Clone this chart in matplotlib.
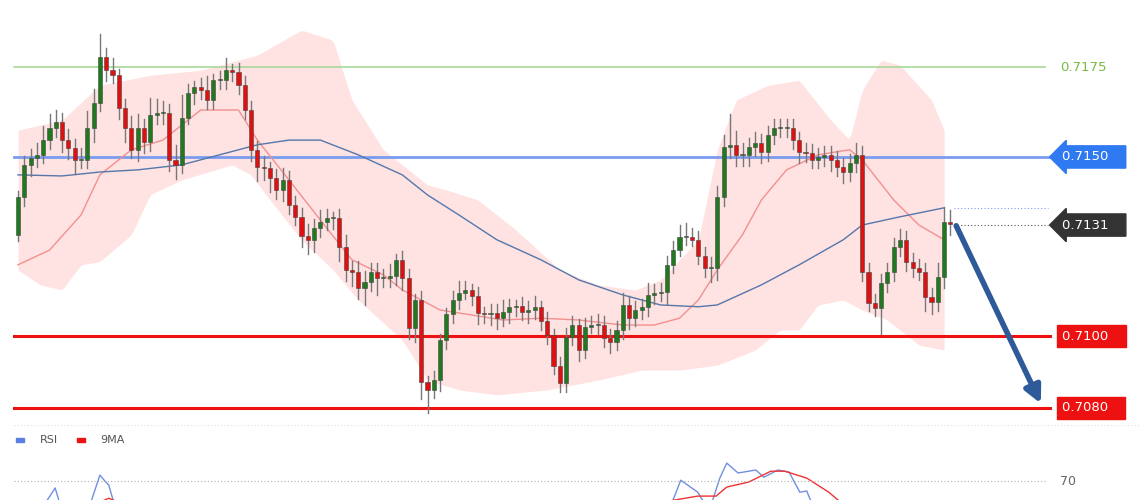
import matplotlib
matplotlib.use("Agg")
import matplotlib.pyplot as plt
from matplotlib.patches import Rectangle
import numpy as np

first_open = 0.71282
closes = [0.71388,0.71478,0.71497,0.71506,0.71547,0.71581,0.71598,0.71547,0.71525,0.71492,
          0.71492,0.71581,0.71651,0.71779,0.71743,0.71729,0.71637,0.71581,0.71520,0.71581,
          0.71542,0.71617,0.71623,0.71623,0.71492,0.71478,0.71609,0.71679,0.71695,0.71687,
          0.71659,0.71715,0.71715,0.71743,0.71737,0.71701,0.71631,0.71520,0.71472,0.71469,
          0.71441,0.71408,0.71436,0.71366,0.71333,0.71280,0.71268,0.71302,0.71319,0.71330,
          0.71330,0.71249,0.71185,0.71179,0.71135,0.71151,0.71179,0.71162,0.71162,0.71168,
          0.71213,0.71162,0.71023,0.71101,0.70872,0.70850,0.70878,0.70989,0.71062,0.71101,
          0.71121,0.71129,0.71112,0.71065,0.71062,0.71065,0.71051,0.71068,0.71081,0.71084,
          0.71068,0.71073,0.71081,0.71042,0.71003,0.70917,0.70869,0.70998,0.71031,0.70962,
          0.71026,0.71031,0.71031,0.70995,0.70984,0.71017,0.71087,0.71051,0.71073,0.71081,
          0.71115,0.71121,0.71123,0.71199,0.71241,0.71277,0.71277,0.71268,0.71224,0.71190,
          0.71190,0.71388,0.71528,0.71533,0.71506,0.71506,0.71528,0.71539,0.71514,0.71561,
          0.71581,0.71581,0.71581,0.71547,0.71514,0.71511,0.71492,0.71500,0.71506,0.71492,
          0.71472,0.71458,0.71483,0.71506,0.71179,0.71093,0.71079,0.71148,0.71179,0.71249,
          0.71268,0.71207,0.71190,0.71180,0.71109,0.71095,0.71165,0.71319,0.71313]
# wick lengths in pips (0.0001)
upper_wick = [2,3,3,4,5,5,4,3,4,3, 4,6,5,8,3,4,2,3,4,5, 3,6,5,4,3,5,8,3,2,3,
              5,2,3,4,2,3,3,3,3,4, 2,3,4,3,3,3,4,3,4,3, 2,3,4,3,4,4,3,3,3,4,
              2,3,3,2,3,2,3,2,2,3, 4,3,2,3,2,3,3,4,3,2, 3,3,4,2,3,2,3,3,3,2,
              3,3,4,3,3,3,4,3,3,3, 4,3,3,3,3,4,5,3,3,3, 4,4,4,11,5,4,3,4,3,3,
              3,3,3,3,3,3,3,3,3,3, 3,3,3,4,3,3,3,3,3,3, 4,3,3,3,3,3,5,5,4]
lower_wick = [2,3,4,3,3,3,3,4,4,5, 3,3,5,3,4,3,4,5,3,4, 4,3,3,4,4,5,3,2,4,3,
              3,3,3,3,3,3,3,4,5,4, 5,3,4,3,3,4,5,4,3,3, 4,5,4,5,4,6,3,6,3,3,
              3,4,4,5,6,8,3,4,3,3, 3,2,3,4,3,4,4,3,4,3, 3,4,3,3,3,3,3,3,3,4,
              3,2,3,3,4,3,3,4,3,3, 3,3,3,4,3,2,3,2,3,3, 5,4,3,4,4,4,4,3,4,3,
              3,3,3,3,4,3,3,3,3,4, 3,4,3,3,3,3,3,9,3,3, 3,3,3,3,5,4,3,4,4]

upper_band_x = [0,7,13,21,29,38,45,50,53,58,65,68,73,79,86,92,98,102,108,111,114,119,124,129,132,134,137,140,145,147]
upper_band_y = [0.71575,0.71603,0.71700,0.71728,0.71742,0.71784,0.71854,0.71826,0.71659,0.71520,0.71422,0.71408,0.71380,0.71297,0.71185,0.71143,0.71129,0.71157,0.71269,0.71520,0.71659,0.71700,0.71714,0.71603,0.71547,0.71687,0.71770,0.71756,0.71659,0.71575]
lower_band_x = [0,3.5,7,10,13,18,21,26,34,37,40,45,50,54,61,65,70,76,84,92,99,105,111,117,121,124,127,131,134,138,143,147]
lower_band_y = [0.71185,0.71143,0.71129,0.71199,0.71208,0.71283,0.71395,0.71436,0.71478,0.71450,0.71380,0.71269,0.71185,0.71101,0.70989,0.70877,0.70850,0.70836,0.70850,0.70877,0.70905,0.70905,0.70919,0.70961,0.71017,0.71017,0.71087,0.71101,0.71073,0.71045,0.70975,0.70961]
mid_x = [0,5,10,13,18,23,29,35,38,43,48,53,58,61,64,67,72,77,83,89,96,101,105,108,111,115,118,122,127,132,134,139,143,147]
mid_y = [0.71199,0.71240,0.71338,0.71450,0.71520,0.71547,0.71631,0.71631,0.71547,0.71436,0.71324,0.71213,0.71171,0.71129,0.71101,0.71073,0.71059,0.71045,0.71050,0.71045,0.71031,0.71031,0.71050,0.71101,0.71185,0.71283,0.71380,0.71464,0.71506,0.71520,0.71492,0.71380,0.71310,0.71269]
ma_x = [0,7,13,19,26,32,38,43,48,54,61,65,70,76,83,89,96,102,108,111,118,124,131,134,140,147]
ma_y = [0.71450,0.71447,0.71458,0.71464,0.71478,0.71506,0.71534,0.71547,0.71547,0.71506,0.71450,0.71394,0.71338,0.71269,0.71213,0.71157,0.71115,0.71087,0.71082,0.71087,0.71143,0.71199,0.71269,0.71310,0.71333,0.71358]

rsi_x = [0,2,3.5,5.9,7,9,11.1,13,13.8,14.4,15.6,18,60,100,103.3,105.2,107.9,109.7,111.4,112.5,114.3,117.1,118.4,120.6,122.4,124.1,125.2,126.5,129,147]
rsi_y = [50,55,60,67.7,60,55,60,72,70,68.7,60,52,40,55,60,70.3,66.3,60,71,76,72.7,73.7,71.3,73.7,73,66.3,66.7,60,50,50]
rsi_ma_x = [10,12,14.4,17,20,60,97,99.5,107.9,110.8,112.5,116,119.5,121.7,125.2,128.7,131.1,133,147]
rsi_ma_y = [58,62,64.3,62,57,45,55,62,65,65,68,69.7,73.3,73.3,71,66.3,62,58,50]

levels = [0.7175, 0.7150, 0.7100, 0.7080]
last_price = 0.7131

def px_x(p):
    return (p - 18) / 6.3

fig = plt.figure(figsize=(11.4, 5.0), dpi=100)
ax = fig.add_axes([0, 75/500, 1, 425/500])
ax.set_xlim(px_x(0), px_x(1140))
ax.set_ylim(0.70752, 0.71938)
ax.axis("off")

bx = np.linspace(0, 147, 300)
ub = np.interp(bx, upper_band_x, upper_band_y)
lb = np.interp(bx, lower_band_x, lower_band_y)
ax.fill_between(bx, lb, ub, color="#ffd9d9", alpha=0.75, lw=0, zorder=1)
ax.plot(mid_x, mid_y, color="#f29090", lw=1, zorder=2)
ax.plot(ma_x, ma_y, color="#5577aa", lw=1, zorder=2)

ax.plot([px_x(14), px_x(1045)], [levels[0]]*2, color="#a8d89a", lw=1.2, zorder=1)
ax.plot([px_x(14), px_x(1050)], [levels[1]]*2, color="#7a9cf0", lw=2, zorder=1)
ax.plot([px_x(14), px_x(1050)], [levels[2]]*2, color="#ee1111", lw=2.2, zorder=1)
ax.plot([px_x(14), px_x(1050)], [levels[3]]*2, color="#ee1111", lw=2.2, zorder=1)
ax.plot([len(closes) - 0.5, px_x(1048)], [last_price]*2, color="#555555", lw=0.8, ls=(0, (1, 2)), zorder=1)
ax.plot([len(closes) - 0.5, px_x(1048)], [ma_y[-1]]*2, color="#7a9cf0", lw=0.8, ls=(0, (1, 2)), zorder=1)

opens = [first_open] + closes[:-1]
for i, (o, c) in enumerate(zip(opens, closes)):
    hi = max(o, c) + upper_wick[i] * 0.0001 * 0.8
    lo = min(o, c) - lower_wick[i] * 0.0001 * 0.8
    col = "#1f7a1f" if c >= o else "#e01010"
    ax.plot([i, i], [lo, hi], color="#777777", lw=1, zorder=3)
    h = max(abs(c - o), 0.00003)
    ax.add_patch(Rectangle((i - 0.32, min(o, c)), 0.64, h, facecolor=col,
                           edgecolor="#444444", lw=0.4, zorder=4))

ax.annotate("", xy=(px_x(1042), 0.70805), xytext=(px_x(955), 0.71315),
            arrowprops=dict(arrowstyle="-|>,head_width=0.5,head_length=1.0", color="#2f5a9a", lw=4), zorder=5)

ax.text(px_x(1060), levels[0], "0.7175", color="#77bb44", fontsize=9.5, va="center", ha="left")
tags = [(levels[1], "#2f7af0", "0.7150", "larrow,pad=0.35"),
        (last_price, "#333333", "0.7131", "larrow,pad=0.35"),
        (levels[2], "#ee1111", "0.7100", "square,pad=0.35"),
        (levels[3], "#ee1111", "0.7080", "square,pad=0.35")]
for y, col, t, bs in tags:
    ax.text(px_x(1062), y, t + "   ", color="white", fontsize=9.5, va="center", ha="left", zorder=6,
            bbox=dict(boxstyle=bs, fc=col, ec=col))

ax2 = fig.add_axes([0, 0, 1, 75/500])
ax2.set_xlim(px_x(0), px_x(1140))
ax2.set_ylim(63.7, 88.7)
ax2.axis("off")
ax2.plot(rsi_x, rsi_y, color="#6f8fe0", lw=1)
ax2.plot(rsi_ma_x, rsi_ma_y, color="#ee3333", lw=1)
ax2.plot([px_x(14), px_x(1045)], [70, 70], color="#aaaaaa", lw=0.8, ls=(0, (1, 2)))
ax2.text(px_x(1060), 70, "70", color="#666666", fontsize=9, va="center")
ax2.plot([px_x(14), px_x(1140)], [88.6, 88.6], color="#cfe8d8", lw=0.8, ls=(0, (1, 2)))
ax2.add_patch(Rectangle((px_x(16), 83.2), 1.2, 1.1, color="#5b7fe0"))
ax2.text(px_x(40), 83.8, "RSI", fontsize=8, color="#555555", va="center")
ax2.add_patch(Rectangle((px_x(77), 83.2), 1.2, 1.1, color="#ee1111"))
ax2.text(px_x(100), 83.8, "9MA", fontsize=8, color="#555555", va="center")

fig.savefig("out.png", dpi=100, facecolor="white")
